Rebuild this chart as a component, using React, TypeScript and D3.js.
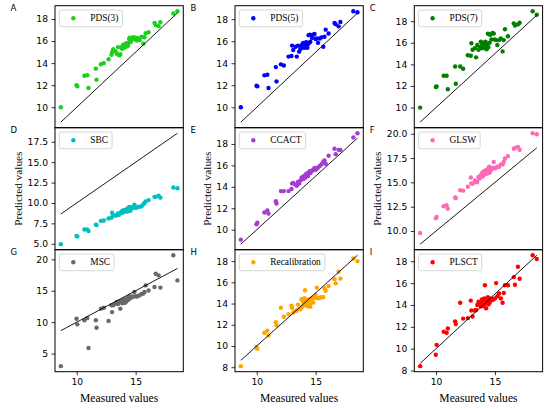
import React, { useEffect, useRef } from 'react';
import * as d3 from 'd3';

const measured = [8.65, 9.98, 10.05, 10.65, 10.9, 11.0, 11.62, 11.68, 12.05, 12.3,
  12.7, 12.95, 13.0, 13.1, 13.3, 13.4, 13.5, 13.6, 13.7, 13.8,
  13.85, 13.9, 13.95, 14.0, 14.05, 14.1, 14.15, 14.2, 14.25, 14.3,
  14.35, 14.4, 14.45, 14.5, 14.55, 14.6, 14.7, 14.8, 14.9, 15.0,
  15.1, 15.2, 15.35, 15.5, 15.65, 15.75, 15.85, 16.1, 16.6, 16.7,
  16.95, 17.1, 18.2, 18.55];

const pds3 = [10.0, 12.0, 11.9, 12.85, 12.9, 11.75, 13.5, 12.5, 13.9, 14.0,
  14.35, 14.75, 15.0, 15.25, 15.05, 14.85, 15.45, 14.7, 14.8, 15.4,
  15.3, 15.6, 15.5, 15.7, 15.4, 15.6, 15.55, 15.8, 15.5, 15.7,
  15.6, 15.85, 16.2, 16.3, 15.9, 16.0, 16.25, 16.35, 16.15, 16.3,
  16.05, 16.25, 16.1, 16.4, 15.75, 16.35, 16.7, 16.8, 17.65, 17.45,
  17.35, 17.7, 18.5, 18.7];

const pds5 = [10.0, 11.95, 11.9, 12.9, 12.95, 11.75, 13.65, 12.35, 13.9, 13.8,
  14.6, 14.65, 15.6, 15.2, 15.5, 14.6, 15.6, 15.05, 15.3, 15.6,
  15.4, 15.8, 15.5, 15.85, 15.4, 15.7, 15.55, 15.9, 15.6, 15.4,
  15.75, 16.55, 15.85, 16.6, 15.95, 16.55, 16.3, 16.6, 16.65, 16.2,
  16.25, 15.85, 16.25, 16.35, 15.5, 16.4, 17.05, 16.7, 17.65, 17.55,
  17.35, 17.75, 18.72, 18.63];

const pds7 = [10.0, 11.9, 11.95, 12.95, 12.95, 11.7, 13.8, 12.2, 13.8, 13.6,
  14.85, 14.8, 15.95, 15.35, 15.5, 14.65, 15.8, 15.35, 15.6, 16.1,
  15.5, 15.9, 15.7, 16.0, 15.6, 15.8, 15.5, 16.1, 15.75, 15.4,
  15.9, 16.85, 15.6, 16.8, 16.0, 16.75, 16.3, 16.9, 16.85, 16.3,
  16.25, 15.8, 16.25, 16.4, 15.2, 16.25, 17.25, 16.6, 17.8, 17.6,
  17.7, 17.85, 18.92, 18.6];

const sbc = [4.95, 5.95, 5.9, 6.75, 6.75, 6.55, 7.35, 7.3, 7.8, 7.85,
  8.1, 8.2, 8.8, 8.5, 8.45, 8.5, 8.7, 8.55, 8.75, 8.95,
  8.8, 9.05, 8.9, 9.1, 8.95, 9.15, 9.0, 9.2, 9.1, 8.95,
  9.25, 9.45, 9.3, 9.5, 9.05, 9.4, 9.35, 9.55, 9.8, 9.4,
  9.45, 9.5, 9.55, 9.6, 9.85, 10.0, 10.2, 10.35, 10.75, 10.75,
  10.9, 10.65, 11.9, 11.8];

const ccact = [9.07, 10.5, 10.65, 11.6, 11.8, 11.5, 12.65, 12.45, 13.6, 13.6,
  13.6, 13.8, 14.3, 14.35, 14.2, 14.1, 14.45, 14.3, 14.6, 14.85,
  14.7, 14.9, 14.75, 15.0, 14.8, 15.05, 14.9, 15.2, 15.1, 15.25,
  15.0, 15.35, 15.25, 15.45, 15.3, 15.4, 15.5, 15.6, 15.75, 15.6,
  15.7, 15.8, 15.95, 16.1, 16.35, 16.45, 16.15, 16.9, 17.55, 17.05,
  17.45, 17.45, 18.6, 19.0];

const glsw = [9.8, 11.3, 11.45, 12.55, 12.65, 12.3, 13.45, 13.4, 14.2, 14.15,
  14.55, 15.5, 14.9, 14.85, 15.2, 15.0, 15.05, 15.55, 15.4, 15.7,
  15.8, 15.95, 15.6, 16.1, 15.75, 16.0, 16.2, 15.85, 16.05, 16.3,
  15.9, 16.15, 16.4, 16.6, 16.0, 16.5, 16.3, 16.5, 17.1, 16.45,
  16.5, 16.6, 16.6, 16.85, 16.85, 17.1, 17.45, 17.7, 18.45, 18.55,
  18.65, 18.35, 20.05, 19.95];

const msc = [3.0, 10.55, 9.65, 10.3, 10.65, 5.9, 10.3, 9.1, 12.15, 12.3,
  10.2, 12.7, 11.6, 12.7, 12.95, 13.2, 12.9, 13.3, 12.15, 13.1,
  13.4, 13.0, 13.5, 13.2, 13.6, 13.1, 13.4, 13.3, 13.7, 13.5,
  13.9, 13.6, 14.0, 13.8, 14.1, 13.9, 14.0, 14.1, 14.8, 14.1,
  14.1, 14.15, 14.3, 14.5, 14.55, 14.8, 15.85, 15.05, 15.6, 17.7,
  17.45, 15.5, 20.65, 16.65];

const recalibration = [8.1, 9.9, 9.75, 11.25, 11.45, 11.0, 12.25, 11.95, 13.6, 12.75,
  13.0, 13.8, 13.6, 13.15, 13.3, 13.35, 13.9, 13.5, 13.45, 14.4,
  13.7, 14.25, 14.3, 14.0, 14.5, 15.25, 13.9, 13.8, 14.1, 14.25,
  13.75, 14.4, 14.0, 13.95, 13.7, 14.3, 14.55, 14.1, 14.55, 14.8,
  15.5, 14.5, 14.55, 14.6, 14.6, 15.45, 15.2, 15.65, 16.3, 15.9,
  17.0, 16.35, 18.25, 18.0];

const plsct = [8.4, 9.45, 10.35, 11.55, 11.45, 11.85, 12.5, 12.25, 14.2, 12.75,
  12.8, 14.4, 13.5, 12.95, 13.5, 13.55, 14.0, 14.3, 14.1, 13.85,
  14.2, 14.5, 14.0, 14.4, 13.9, 14.6, 15.8, 14.15, 13.7, 14.55,
  14.3, 14.7, 14.05, 14.4, 14.2, 14.6, 14.5, 14.45, 14.55, 14.6,
  16.0, 14.8, 15.05, 14.6, 14.2, 15.1, 15.8, 15.8, 16.55, 15.85,
  17.5, 16.4, 18.55, 18.2];

const panelLetters = ['A', 'B', 'C', 'D', 'E', 'F', 'G', 'H', 'I'];
const seriesNames = ['PDS(3)', 'PDS(5)', 'PDS(7)', 'SBC', 'CCACT', 'GLSW', 'MSC', 'Recalibration', 'PLSCT'];
const seriesValues = [pds3, pds5, pds7, sbc, ccact, glsw, msc, recalibration, plsct];
const seriesColors = ['#1ccf1c', '#0000ff', '#008000', '#00bfbf', '#a63bd4', '#ff69b4', '#696969', '#ffa500', '#ff0000'];

const xTicks = [10, 15];
const yTicksList = [
  [10, 12, 14, 16, 18],
  [10, 12, 14, 16, 18],
  [10, 12, 14, 16, 18],
  [5, 7.5, 10, 12.5, 15, 17.5],
  [10, 12, 14, 16, 18],
  [10, 12.5, 15, 17.5, 20],
  [5, 10, 15, 20],
  [8, 10, 12, 14, 16, 18],
  [8, 10, 12, 14, 16, 18],
];
const yTickDecimals = [0, 0, 0, 1, 0, 1, 0, 0, 0];
const xLabel = 'Measured values';
const yLabel = 'Predicted values';

const SANS = "'DejaVu Sans', sans-serif";
const SERIF = "'Liberation Serif', 'Times New Roman', serif";

export default function App() {
  const ref = useRef<SVGSVGElement>(null);

  useEffect(() => {
    const svg = d3.select(ref.current);
    svg.selectAll('*').remove();
    svg.append('rect').attr('width', 550).attr('height', 409).attr('fill', '#fff');

    const colLeft = [55, 235, 414.3];
    const W = 128.3;
    const rowTop = [5.7, 127.7, 249.7];
    const H = 122;

    seriesValues.forEach((vals, i) => {
      const r = Math.floor(i / 3);
      const c = i % 3;
      const x0 = colLeft[c];
      const y0 = rowTop[r];

      const lo = d3.min(measured) as number;
      const hi = d3.max(measured) as number;
      const ymin = Math.min(d3.min(vals) as number, lo);
      const ymax = Math.max(d3.max(vals) as number, hi);
      const xPad = (hi - lo) * 0.05;
      const yPad = (ymax - ymin) * 0.05;

      const x = d3.scaleLinear().domain([lo - xPad, hi + xPad]).range([x0, x0 + W]);
      const y = d3.scaleLinear().domain([ymin - yPad, ymax + yPad]).range([y0 + H, y0]);

      const g = svg.append('g');

      // points
      g.append('g')
        .selectAll('circle')
        .data(measured.map((m, k) => [m, vals[k]]))
        .join('circle')
        .attr('cx', (d) => x(d[0]))
        .attr('cy', (d) => y(d[1]))
        .attr('r', 2.2)
        .attr('fill', seriesColors[i]);

      // 1:1 line
      const lineGen = d3.line<number>().x((d) => x(d)).y((d) => y(d));
      g.append('path')
        .attr('d', lineGen([lo, hi]) as string)
        .attr('fill', 'none')
        .attr('stroke', '#000')
        .attr('stroke-width', 0.9);

      // frame
      g.append('rect')
        .attr('x', x0)
        .attr('y', y0)
        .attr('width', W)
        .attr('height', H)
        .attr('fill', 'none')
        .attr('stroke', '#000')
        .attr('stroke-width', 1);

      // y axis
      const fmt = d3.format(yTickDecimals[i] ? '.1f' : 'd');
      const yAxisG = g.append('g')
        .attr('transform', `translate(${x0},0)`)
        .call(d3.axisLeft(y).tickValues(yTicksList[i]).tickSize(3.5).tickPadding(3.5).tickFormat((d) => fmt(d as number)));
      yAxisG.select('.domain').remove();
      yAxisG.selectAll('line').attr('stroke', '#000').attr('stroke-width', 0.8);
      yAxisG.selectAll('text').attr('fill', '#000').style('font-family', SANS).style('font-size', '9.2px');

      // x axis on bottom row
      if (r === 2) {
        const xAxisG = g.append('g')
          .attr('transform', `translate(0,${y0 + H})`)
          .call(d3.axisBottom(x).tickValues(xTicks).tickSize(3.5).tickPadding(3.5).tickFormat((d) => d3.format('d')(d as number)));
        xAxisG.select('.domain').remove();
        xAxisG.selectAll('line').attr('stroke', '#000').attr('stroke-width', 0.8);
        xAxisG.selectAll('text').attr('fill', '#000').style('font-family', SANS).style('font-size', '9.2px');
        g.append('text')
          .attr('x', x0 + W / 2)
          .attr('y', 401.5)
          .attr('text-anchor', 'middle')
          .style('font-family', SERIF)
          .style('font-size', '11.6px')
          .attr('fill', '#000')
          .text(xLabel);
      }

      // y label on middle row
      if (r === 1) {
        const bb = (yAxisG.node() as SVGGElement).getBBox();
        const bx = x0 + bb.x - 5.5;
        g.append('text')
          .attr('transform', `translate(${bx},${y0 + H / 2}) rotate(-90)`)
          .attr('text-anchor', 'middle')
          .style('font-family', SERIF)
          .style('font-size', '11.3px')
          .attr('fill', '#000')
          .text(yLabel);
      }

      // legend
      const lx = x0 + 4.3;
      const ly = y0 + 4.3;
      const lg = g.append('g');
      const frame = lg.append('rect');
      const t = lg.append('text')
        .attr('x', lx + 31)
        .attr('y', ly + 11.2)
        .style('font-family', SERIF)
        .style('font-size', '9.4px')
        .attr('fill', '#000')
        .text(seriesNames[i]);
      const tw = (t.node() as SVGTextElement).getComputedTextLength();
      frame
        .attr('x', lx)
        .attr('y', ly)
        .attr('width', tw + 35)
        .attr('height', 16.7)
        .attr('rx', 2)
        .attr('fill', '#fff')
        .attr('fill-opacity', 0.8)
        .attr('stroke', '#cccccc')
        .attr('stroke-width', 0.8);
      lg.append('circle')
        .attr('cx', lx + 14)
        .attr('cy', ly + 8.3)
        .attr('r', 2.2)
        .attr('fill', seriesColors[i]);

      // panel letter
      svg.append('text')
        .attr('x', x0 - 44.5)
        .attr('y', y0 + 5)
        .style('font-family', SANS)
        .style('font-size', '8.5px')
        .attr('fill', '#000')
        .text(panelLetters[i]);
    });
  }, []);

  return (
    <svg
      ref={ref}
      width={550}
      height={409}
      style={{ position: 'absolute', left: 0, top: 0, background: '#fff' }}
    />
  );
}
